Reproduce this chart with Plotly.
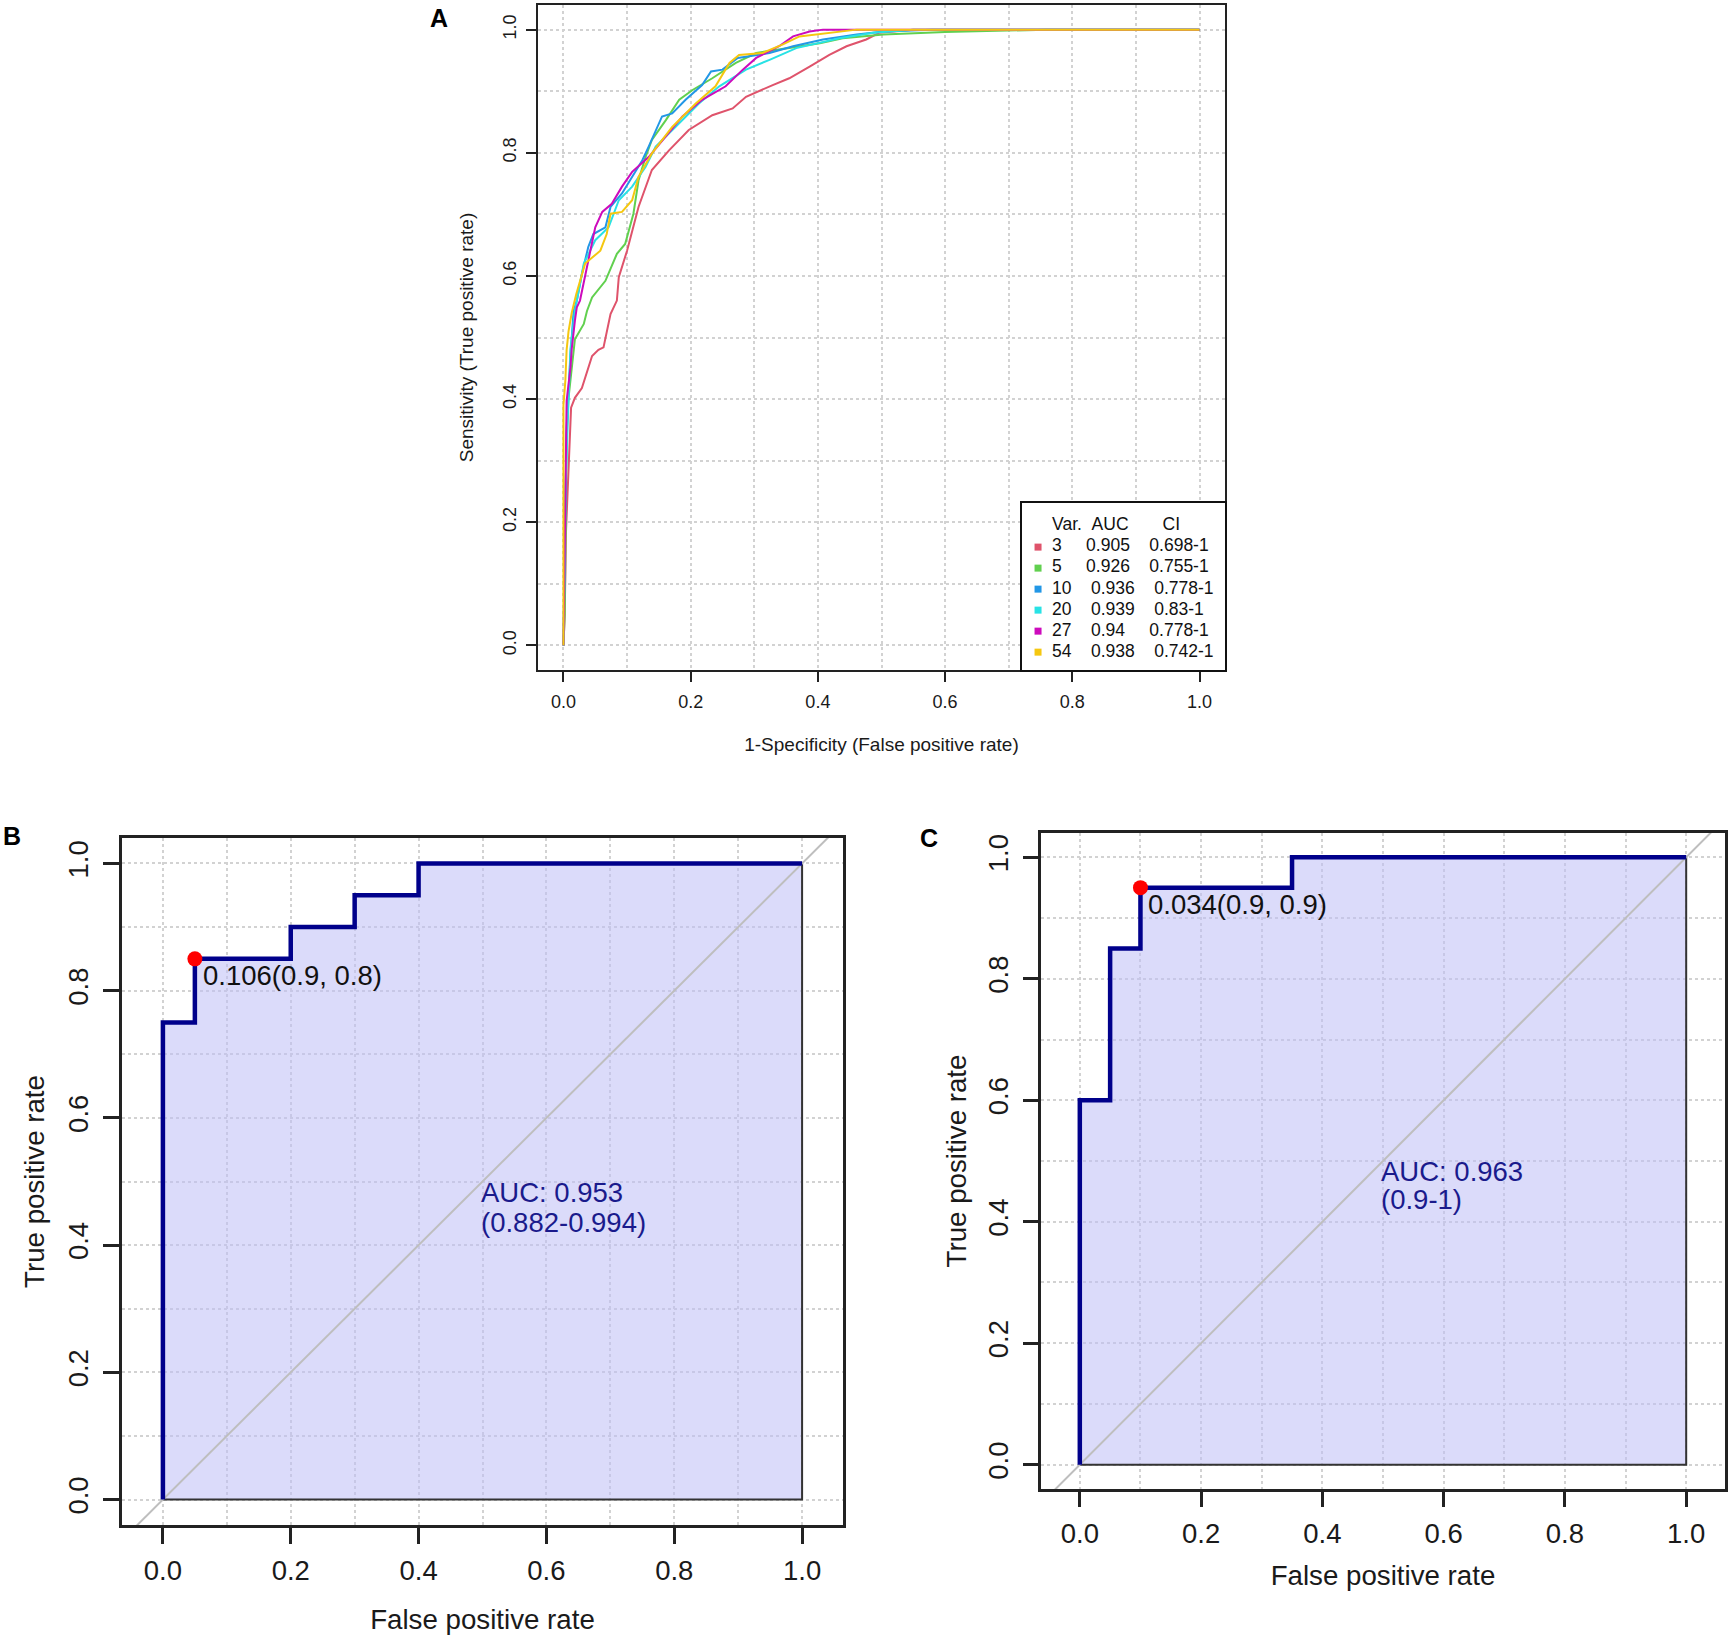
import plotly.graph_objects as go

# -----------------------------
# DATA
# -----------------------------
# Panel A: ROC curves for different numbers of variables
A_VARS = ["3", "5", "10", "20", "27", "54"]
A_AUC = ["0.905", "0.926", "0.936", "0.939", "0.94", "0.938"]
A_CI = ["0.698-1", "0.755-1", "0.778-1", "0.83-1", "0.778-1", "0.742-1"]
A_COLORS = ["#DF536B", "#61D04F", "#2297E6", "#28E2E5", "#CD0BBC", "#F5C710"]
A_HEADER = ["Var.", "AUC", "CI"]

FPR_3 = [0, 0.002, 0.004, 0.007, 0.012, 0.018, 0.029, 0.045, 0.055, 0.063, 0.068, 0.074,
         0.084, 0.087, 0.1, 0.118, 0.139, 0.166, 0.197, 0.234, 0.266, 0.287, 0.329, 0.355,
         0.387, 0.418, 0.445, 0.476, 0.497, 0.55, 1.0]
TPR_3 = [0, 0.05, 0.185, 0.266, 0.386, 0.402, 0.418, 0.47, 0.48, 0.484, 0.511, 0.538,
         0.56, 0.598, 0.641, 0.712, 0.772, 0.804, 0.837, 0.861, 0.872, 0.891, 0.91, 0.921,
         0.94, 0.959, 0.973, 0.984, 0.995, 1.0, 1.0]

FPR_5 = [0, 0.002, 0.005, 0.008, 0.018, 0.032, 0.037, 0.045, 0.066, 0.084, 0.097, 0.11,
         0.118, 0.129, 0.139, 0.161, 0.182, 0.203, 0.234, 0.271, 0.303, 0.355, 0.403, 0.439,
         0.503, 0.6, 0.76, 1.0]
TPR_5 = [0, 0.05, 0.342, 0.402, 0.497, 0.522, 0.543, 0.565, 0.592, 0.636, 0.652, 0.701,
         0.755, 0.793, 0.821, 0.853, 0.886, 0.902, 0.921, 0.946, 0.962, 0.97, 0.978, 0.986,
         0.992, 0.996, 1.0, 1.0]

FPR_10 = [0, 0.003, 0.005, 0.011, 0.016, 0.021, 0.029, 0.039, 0.047, 0.066, 0.074, 0.092,
          0.108, 0.124, 0.134, 0.145, 0.155, 0.171, 0.192, 0.218, 0.232, 0.25, 0.274, 0.324,
          0.361, 0.408, 0.461, 0.503, 0.58, 1.0]
TPR_10 = [0, 0.18, 0.353, 0.47, 0.543, 0.56, 0.603, 0.647, 0.668, 0.679, 0.712, 0.734,
          0.761, 0.788, 0.81, 0.837, 0.859, 0.864, 0.886, 0.91, 0.932, 0.935, 0.954, 0.962,
          0.973, 0.984, 0.992, 0.997, 1.0, 1.0]

FPR_20 = [0, 0.003, 0.008, 0.011, 0.018, 0.032, 0.05, 0.071, 0.087, 0.108, 0.129, 0.145,
          0.176, 0.213, 0.245, 0.287, 0.324, 0.366, 0.434, 0.487, 0.55, 1.0]
TPR_20 = [0, 0.25, 0.4, 0.481, 0.543, 0.62, 0.658, 0.679, 0.723, 0.745, 0.777, 0.81,
          0.842, 0.88, 0.908, 0.935, 0.951, 0.97, 0.986, 0.995, 1.0, 1.0]

FPR_27 = [0, 0.003, 0.005, 0.011, 0.013, 0.018, 0.021, 0.026, 0.037, 0.05, 0.061, 0.076,
          0.092, 0.108, 0.134, 0.161, 0.187, 0.218, 0.255, 0.282, 0.303, 0.339, 0.361, 0.387,
          0.408, 1.0]
TPR_27 = [0, 0.3, 0.397, 0.451, 0.481, 0.527, 0.549, 0.56, 0.614, 0.679, 0.704, 0.717,
          0.745, 0.769, 0.793, 0.826, 0.859, 0.886, 0.908, 0.935, 0.954, 0.973, 0.989, 0.997,
          1.0, 1.0]

FPR_54 = [0, 0.0, 0.003, 0.005, 0.008, 0.013, 0.02, 0.034, 0.058, 0.068, 0.074, 0.092,
          0.108, 0.118, 0.139, 0.171, 0.208, 0.239, 0.261, 0.276, 0.313, 0.345, 0.371, 0.434,
          0.461, 1.0]
TPR_54 = [0, 0.39, 0.43, 0.48, 0.51, 0.54, 0.57, 0.62, 0.641, 0.668, 0.701, 0.704,
          0.723, 0.761, 0.799, 0.842, 0.88, 0.908, 0.946, 0.959, 0.962, 0.976, 0.989, 0.997,
          1.0, 1.0]

A_FPR = [FPR_3, FPR_5, FPR_10, FPR_20, FPR_27, FPR_54]
A_TPR = [TPR_3, TPR_5, TPR_10, TPR_20, TPR_27, TPR_54]

# Panel B: single ROC (step points)
B_FPR = [0, 0, 0.05, 0.2, 0.3, 0.4, 1.0]
B_TPR = [0, 0.75, 0.85, 0.9, 0.95, 1.0, 1.0]
B_BEST = (0.05, 0.85)
B_BEST_LABEL = "0.106(0.9, 0.8)"
B_AUC_LINES = ["AUC: 0.953", "(0.882-0.994)"]

# Panel C: single ROC (step points)
C_FPR = [0, 0, 0.05, 0.1, 0.35, 1.0]
C_TPR = [0, 0.6, 0.85, 0.95, 1.0, 1.0]
C_BEST = (0.1, 0.95)
C_BEST_LABEL = "0.034(0.9, 0.9)"
C_AUC_LINES = ["AUC: 0.963", "(0.9-1)"]

TICKS = [0.0, 0.2, 0.4, 0.6, 0.8, 1.0]
FONT = "Liberation Sans, Arial, Helvetica, sans-serif"
W, H = 1733, 1641
NB = "\u00a0"


def axis(domain, rng, size, ticklen, lw, anchor, title, tsize, standoff, lab_standoff, vertical=False):
    ax = dict(
        domain=domain, range=rng, anchor=anchor,
        tickmode="array", tickvals=TICKS, ticktext=[f"{t:.1f}" for t in TICKS],
        ticks="outside", ticklen=ticklen, tickwidth=lw, tickcolor="#222",
        tickfont=dict(size=size, color="#1a1a1a", family=FONT),
        ticklabelstandoff=lab_standoff,
        showline=True, mirror=True, linecolor="#222", linewidth=lw,
        zeroline=False,
        showgrid=True, gridcolor="#d2d2d2", gridwidth=2, griddash="dot",
        minor=dict(tickmode="array", tickvals=[0.1, 0.3, 0.5, 0.7, 0.9], showgrid=True,
                   gridcolor="#d2d2d2", gridwidth=2, griddash="dot", ticks=""),
        title=dict(text=title, font=dict(size=tsize, color="#1a1a1a", family=FONT),
                   standoff=standoff),
        fixedrange=True,
    )
    if vertical:
        ax["tickangle"] = -90
    return ax


def px_dom(a, b, total, flip=False):
    if flip:
        return [1 - b / total, 1 - a / total]
    return [a / total, b / total]


fig = go.Figure()

# -----------------------------
# PANEL A
# -----------------------------
for col, fx, ty in zip(A_COLORS, A_FPR, A_TPR):
    fig.add_trace(go.Scatter(x=fx, y=ty, mode="lines", line=dict(color=col, width=2),
                             xaxis="x", yaxis="y", showlegend=False, hoverinfo="skip"))

# legend box for panel A (its own small subplot, white background covers the grid)
rows = list(range(len(A_VARS) + 1))
header = f"{A_HEADER[0]:<6}{A_HEADER[1]:<10}{A_HEADER[2]}".replace(" ", NB)
labels = [f"{v:<6}{a:<9}{c}".replace(" ", NB) for v, a, c in zip(A_VARS, A_AUC, A_CI)]
fig.add_trace(go.Scatter(x=[0.079] * len(A_VARS), y=rows[1:], mode="markers",
                         marker=dict(symbol="square", size=7, color=A_COLORS),
                         xaxis="x4", yaxis="y4", showlegend=False, hoverinfo="skip"))
fig.add_trace(go.Scatter(x=[0.148] * len(rows), y=rows, mode="text", text=[header] + labels,
                         textposition="middle right",
                         textfont=dict(size=17.5, color="#111", family=FONT),
                         xaxis="x4", yaxis="y4", showlegend=False, hoverinfo="skip"))


# -----------------------------
# PANELS B / C
# -----------------------------
def add_roc(fpr, tpr, best, best_label, auc_lines, xa, ya):
    xs = fpr + [fpr[-1], fpr[0]]
    ys = tpr + [tpr[0], tpr[0]]
    fig.add_trace(go.Scatter(x=xs, y=ys, mode="lines", fill="toself", line_shape="hv",
                             fillcolor="rgba(190,190,245,0.55)",
                             line=dict(color="#333", width=2),
                             xaxis=xa, yaxis=ya, showlegend=False, hoverinfo="skip"))
    diag = [-0.2, 1.2]
    fig.add_trace(go.Scatter(x=diag, y=diag, mode="lines", line=dict(color="#bebebe", width=2),
                             xaxis=xa, yaxis=ya, showlegend=False, hoverinfo="skip"))
    fig.add_trace(go.Scatter(x=fpr, y=tpr, mode="lines", line_shape="hv",
                             line=dict(color="#00008B", width=4.5),
                             xaxis=xa, yaxis=ya, showlegend=False, hoverinfo="skip"))
    fig.add_trace(go.Scatter(x=[best[0]], y=[best[1]], mode="markers",
                             marker=dict(color="#FF0000", size=15),
                             xaxis=xa, yaxis=ya, showlegend=False, hoverinfo="skip"))
    fig.add_annotation(x=best[0], y=best[1], xref=xa, yref=ya, text=best_label,
                       showarrow=False, xanchor="left", yanchor="top", xshift=6, yshift=1,
                       font=dict(size=27.5, color="#111", family=FONT))
    for line, yy in zip(auc_lines, [0.483, 0.436]):
        fig.add_annotation(x=0.5, y=yy, xref=xa, yref=ya, text=line, align="left",
                           showarrow=False, xanchor="left", yanchor="middle", xshift=-4,
                           font=dict(size=27.5, color="#1a1a8c", family=FONT))


add_roc(B_FPR, B_TPR, B_BEST, B_BEST_LABEL, B_AUC_LINES, "x2", "y2")
add_roc(C_FPR, C_TPR, C_BEST, C_BEST_LABEL, C_AUC_LINES, "x3", "y3")

# panel letters
for letter, x, y in [("A", 439, 18), ("B", 12, 836), ("C", 929, 838)]:
    fig.add_annotation(x=x / W, y=1 - y / H, xref="paper", yref="paper", text=f"<b>{letter}</b>",
                       showarrow=False, xanchor="center", yanchor="middle",
                       font=dict(size=25, color="#000", family=FONT))

fig.update_layout(
    width=W, height=H,
    margin=dict(l=0, r=0, t=0, b=0),
    paper_bgcolor="white", plot_bgcolor="white",
    font=dict(family=FONT, color="#1a1a1a"),
    showlegend=False,
    xaxis=axis(px_dom(538, 1225, W), [-0.04, 1.04], 18, 10, 1.5, "y",
               "1-Specificity (False positive rate)", 19, 26, 5),
    yaxis=axis(px_dom(5, 670, H, flip=True), [-0.04, 1.04], 18, 10, 1.5, "x",
               "Sensitivity (True positive rate)", 19, 21, 3, vertical=True),
    xaxis2=axis(px_dom(122, 843, W), [-0.064, 1.064], 27.5, 16, 2.5, "y2",
                "False positive rate", 27.7, 25, 3),
    yaxis2=axis(px_dom(838, 1525, H, flip=True), [-0.04, 1.04], 27.5, 16, 2.5, "x2",
                "True positive rate", 27.7, 11, 4, vertical=True),
    xaxis3=axis(px_dom(1041, 1725, W), [-0.064, 1.064], 27.5, 15, 2.5, "y3",
                "False positive rate", 27.7, 18, 3),
    yaxis3=axis(px_dom(833, 1489, H, flip=True), [-0.04, 1.04], 27.5, 15, 2.5, "x3",
                "True positive rate", 27.7, 9, 4, vertical=True),
    xaxis4=dict(domain=px_dom(1022, 1225, W), range=[0, 1], anchor="y4",
                showline=True, mirror=True, linecolor="#111", linewidth=1.5,
                showgrid=False, zeroline=False, showticklabels=False, ticks="", fixedrange=True),
    yaxis4=dict(domain=px_dom(503, 670, H, flip=True), range=[6.85, -1.1], anchor="x4",
                showline=True, mirror=True, linecolor="#111", linewidth=1.5,
                showgrid=False, zeroline=False, showticklabels=False, ticks="", fixedrange=True),
)

fig.write_html("out.html", config={"displayModeBar": False},
               post_script="document.body.style.margin='0px';")
